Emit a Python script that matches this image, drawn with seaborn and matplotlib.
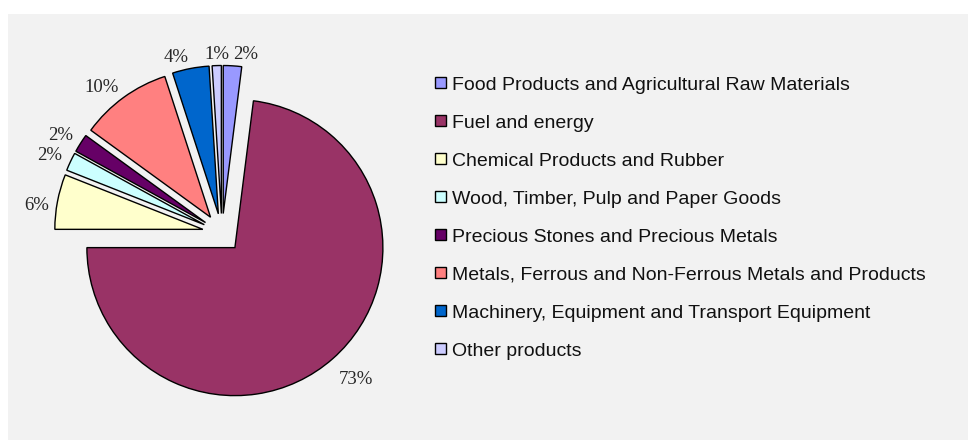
import numpy as np
import matplotlib
matplotlib.use("Agg")
import matplotlib.pyplot as plt
from matplotlib.patches import Rectangle, Patch
import seaborn as sns

# Export structure by commodity group, % of total
categories = [
    "Food Products and Agricultural Raw Materials",
    "Fuel and energy",
    "Chemical Products and Rubber",
    "Wood, Timber, Pulp and Paper Goods",
    "Precious Stones and Precious Metals",
    "Metals, Ferrous and Non-Ferrous Metals and Products",
    "Machinery, Equipment and Transport Equipment",
    "Other products",
]
shares = [2, 73, 6, 2, 2, 10, 4, 1]
slice_colors = ["#9999ff", "#993366", "#ffffcc", "#ccffff",
                "#660066", "#ff8080", "#0066cc", "#ccccff"]

W, H = 968, 440
sns.set_theme(style="white")
plt.rcParams["font.family"] = ["Liberation Sans", "DejaVu Sans"]

fig = plt.figure(figsize=(W / 100, H / 100), dpi=100)
fig.patch.set_facecolor("white")
# light grey chart area
fig.add_artist(Rectangle((8 / W, 0), 1 - 8 / W, (H - 14) / H,
                         transform=fig.transFigure, facecolor="#f2f2f2",
                         edgecolor="none", zorder=0))

# axes in pixel units so the pie geometry is easy to lay out
ax = fig.add_axes([0, 0, 1, 1])
palette = sns.color_palette(slice_colors)
radius = 148
center = (222, H - 233)
explode_px = 19.5

wedges, texts, autotexts = ax.pie(
    shares,
    colors=palette,
    startangle=90,
    counterclock=False,
    radius=radius,
    center=center,
    explode=[explode_px] * len(shares),
    autopct=lambda p: f"{p:.0f}%",
    pctdistance=1.06,
    wedgeprops=dict(edgecolor="black", linewidth=1.0),
    textprops=dict(family=["Liberation Serif", "DejaVu Serif"],
                   fontsize=13.5, color="#262626"),
)
ax.set_xlim(0, W)
ax.set_ylim(0, H)
ax.set_aspect("equal")
ax.axis("off")

# percentage labels sit just outside each slice, anchored by the corner nearest the pie
label_gap = 1.06 * radius
label_drop = 6
for w, t in zip(wedges, autotexts):
    mid = np.deg2rad(0.5 * (w.theta1 + w.theta2))
    cx, cy = w.center
    c, s = np.cos(mid), np.sin(mid)
    t.set_position((cx + label_gap * c, cy + label_gap * s - label_drop))
    t.set_ha("left" if c > 0.05 else ("right" if c < -0.1 else "center"))
    t.set_va("bottom" if s > 0.3 else ("top" if s < -0.3 else "center"))

handles = [Patch(facecolor=col, edgecolor="black", linewidth=1.0) for col in palette]
fig.legend(handles, categories, loc="center left",
           bbox_to_anchor=(435 / W, 1 - 218 / H),
           frameon=False, fontsize=14, handlelength=0.55, handleheight=0.55,
           handletextpad=0.35, labelspacing=1.08, borderpad=0, borderaxespad=0,
           labelcolor="#111111")

fig.savefig("out.png", dpi=100)
